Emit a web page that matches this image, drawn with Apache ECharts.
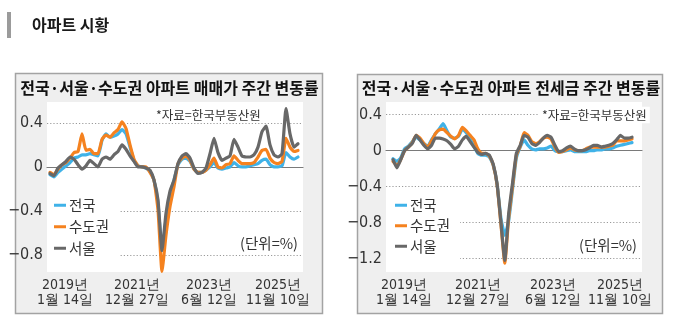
<!DOCTYPE html>
<html>
<head>
<meta charset="utf-8">
<script src="https://cdn.jsdelivr.net/npm/echarts@6/dist/echarts.min.js"></script>
<style>
  html, body { margin: 0; padding: 0; background: #fff; }
  #c { width: 679px; height: 328px; }
</style>
</head>
<body>
<div id="c"></div>
<script>
// Weekly apartment price change rates (%), 2019-01 .. 2025-11
const seriesNames = ['전국', '수도권', '서울'];
const xTickLabels = ['2019년\n1월 14일', '2021년\n12월 27일', '2023년\n6월 12일', '2025년\n11월 10일'];
// week positions of the date labels on each panel
const saleTickWeeks = [3.75, 21.75, 39.75, 57];
const rentTickWeeks = [2.85, 22.05, 41.5, 58.9];
const saleYTicks = [0.4, 0, -0.4, -0.8];
const rentYTicks = [0.4, 0, -0.4, -0.8, -1.2];

// 매매가 (sale price)
const saleNation = [-0.07,-0.09,-0.05,-0.02,0.01,0.04,0.08,0.09,0.11,0.11,
  0.12,0.11,0.10,0.24,0.30,0.27,0.28,0.30,0.34,0.30,
  0.18,0.06,0.01,0.00,-0.01,-0.04,-0.12,-0.33,-0.76,-0.48,
  -0.25,-0.12,0.02,0.07,0.08,0.05,-0.02,-0.05,-0.05,-0.03,
  0.00,0.04,-0.01,-0.02,-0.01,0.00,0.04,0.01,0.00,0.00,
  0.01,0.02,0.03,0.06,0.07,0.02,0.00,0.00,0.01,0.13,
  0.09,0.07,0.09];
const saleCapital = [-0.05,-0.07,-0.02,0.02,0.04,0.08,0.13,0.14,0.30,0.15,
  0.16,0.12,0.12,0.25,0.29,0.27,0.31,0.34,0.41,0.35,
  0.20,0.07,0.01,0.00,0.00,-0.05,-0.12,-0.39,-0.95,-0.62,
  -0.36,-0.18,0.03,0.08,0.10,0.06,-0.02,-0.05,-0.05,-0.03,
  0.02,0.08,0.00,-0.01,0.02,0.03,0.10,0.06,0.03,0.03,
  0.03,0.04,0.09,0.15,0.16,0.08,0.04,0.03,0.05,0.26,
  0.18,0.14,0.15];
const saleSeoul = [-0.06,-0.08,-0.01,0.02,0.05,0.09,0.07,0.02,-0.02,0.01,
  0.06,0.03,0.00,0.07,0.09,0.07,0.11,0.14,0.20,0.16,
  0.10,0.05,0.00,0.00,-0.01,-0.03,-0.12,-0.30,-0.76,-0.42,
  -0.22,-0.12,0.03,0.10,0.12,0.08,-0.01,-0.06,-0.05,-0.01,
  0.12,0.26,0.13,0.06,0.08,0.10,0.25,0.18,0.10,0.09,
  0.09,0.11,0.18,0.32,0.37,0.20,0.11,0.09,0.12,0.53,
  0.30,0.18,0.21];

// 전세금 (jeonse deposit)
const rentNation = [-0.09,-0.12,-0.08,0.02,0.05,0.10,0.15,0.12,0.08,0.05,
  0.12,0.19,0.24,0.30,0.22,0.15,0.14,0.16,0.24,0.20,
  0.13,0.05,-0.03,-0.05,-0.05,-0.07,-0.16,-0.37,-0.75,-0.94,
  -0.78,-0.43,-0.08,0.04,0.12,0.06,0.02,0.01,0.02,0.02,
  0.03,0.05,0.00,-0.01,-0.01,0.00,0.01,-0.01,-0.01,-0.01,
  -0.01,0.00,0.00,0.01,0.01,0.02,0.02,0.03,0.05,0.06,
  0.07,0.08,0.09];
const rentCapital = [-0.12,-0.16,-0.10,0.00,0.04,0.09,0.17,0.14,0.08,0.04,
  0.11,0.19,0.23,0.24,0.20,0.16,0.13,0.17,0.26,0.22,
  0.17,0.12,0.02,-0.03,-0.03,-0.06,-0.16,-0.38,-0.82,-1.25,
  -0.75,-0.40,-0.05,0.05,0.20,0.17,0.10,0.08,0.10,0.14,
  0.15,0.13,0.04,-0.02,-0.01,0.01,0.03,0.01,0.00,0.00,
  0.02,0.04,0.04,0.04,0.04,0.04,0.05,0.06,0.11,0.11,
  0.11,0.12,0.13];
const rentSeoul = [-0.10,-0.19,-0.10,0.00,0.04,0.08,0.17,0.12,0.06,0.02,
  0.06,0.14,0.14,0.13,0.11,0.07,0.02,0.05,0.12,0.16,
  0.10,0.04,-0.02,-0.04,-0.03,-0.05,-0.15,-0.37,-0.80,-1.22,
  -0.70,-0.36,-0.03,0.06,0.17,0.15,0.08,0.06,0.09,0.14,
  0.17,0.15,0.06,-0.01,0.00,0.03,0.05,0.02,0.00,0.00,
  0.01,0.03,0.06,0.06,0.04,0.05,0.06,0.08,0.12,0.17,
  0.14,0.14,0.15];

const COLORS = ['#3fb2e8', '#f5821f', '#686868'];
const FONT_KR = '"Noto Sans CJK KR", "Noto Sans", sans-serif';
const FONT_NUM = '"Liberation Sans Narrow", "DejaVu Sans Condensed", "Roboto Condensed", "Liberation Sans", sans-serif';
const TEXT = '#333';

function fmtY(v) {
  if (v === 0) return '0';
  return (v < 0 ? '\u2212' : '') + Math.abs(v).toFixed(1);
}

function lineSeries(name, values, color, idx, z) {
  return {
    type: 'line', name: name,
    xAxisIndex: idx * 2, yAxisIndex: idx,
    data: values.map((v, i) => [i, v]),
    symbol: 'none', showSymbol: false,
    smooth: 0.15,
    lineStyle: { width: 3.2, color: color, join: 'round', cap: 'round' },
    itemStyle: { color: color },
    emphasis: { disabled: true },
    z: z, animation: false
  };
}

function xAxesFor(grid, min, max, tickWeeks) {
  return [
    { // zero baseline
      gridIndex: grid, type: 'value', min: min, max: max,
      axisLine: { show: true, onZero: true, lineStyle: { color: '#7a7a7a', width: 1.2 } },
      axisTick: { show: false }, axisLabel: { show: false }, splitLine: { show: false }
    },
    { // date labels
      gridIndex: grid, type: 'value', min: min, max: max, position: 'bottom',
      axisLine: { show: false, onZero: false }, axisTick: { show: false }, splitLine: { show: false },
      axisLabel: {
        customValues: tickWeeks,
        formatter: v => xTickLabels[tickWeeks.indexOf(v)] || '',
        margin: 6, fontSize: 14, lineHeight: 15, color: TEXT, fontFamily: FONT_NUM
      }
    }
  ];
}

function yAxisFor(grid, min, max, ticks) {
  return {
    gridIndex: grid, type: 'value', min: min, max: max,
    axisLine: { show: false },
    axisTick: { show: false, customValues: ticks.filter(t => t !== 0) },
    axisLabel: {
      customValues: ticks, formatter: fmtY, margin: 4,
      fontSize: 16, color: TEXT, fontFamily: FONT_NUM
    },
    splitLine: { show: true, lineStyle: { color: '#9a9a9a', width: 1, type: [1.2, 2] } }
  };
}

function legendFor(left, top, gap, padding) {
  return {
    data: seriesNames, orient: 'vertical', left: left, top: top,
    icon: 'rect', itemWidth: 12, itemHeight: 3, itemGap: gap,
    selectedMode: false, backgroundColor: '#fff', padding: padding,
    textStyle: { fontSize: 14.5, lineHeight: 14, color: TEXT, fontFamily: FONT_KR, padding: [0, 0, 0, -2] }
  };
}

const chart = echarts.init(document.getElementById('c'));
chart.setOption({
  animation: false,
  backgroundColor: '#fff',
  graphic: [
    { type: 'rect', z: -10, shape: { x: 7, y: 12, width: 4, height: 26 }, style: { fill: '#9b9b9b' } },
    { type: 'text', z: 10, x: 32, y: 25, style: { text: '아파트 시황', font: 'bold 16px ' + FONT_KR, fill: '#1a1a1a', verticalAlign: 'middle' } },
    { type: 'rect', z: -10, shape: { x: 15.5, y: 73.5, width: 307, height: 240 }, style: { fill: '#efefef', stroke: '#a3a3a3', lineWidth: 1.5 } },
    { type: 'rect', z: -10, shape: { x: 357.5, y: 74.5, width: 305, height: 239 }, style: { fill: '#efefef', stroke: '#a3a3a3', lineWidth: 1.5 } },
    { type: 'text', z: 10, x: 169.5, y: 88, style: { text: '전국·서울·수도권 아파트 매매가 주간 변동률', font: 'bold 16px ' + FONT_KR, fill: '#111', align: 'center', verticalAlign: 'middle' } },
    { type: 'text', z: 10, x: 511, y: 88, style: { text: '전국·서울·수도권 아파트 전세금 주간 변동률', font: 'bold 16px ' + FONT_KR, fill: '#111', align: 'center', verticalAlign: 'middle' } },
    { type: 'text', z: 10, x: 156, y: 115, style: { text: '*자료=한국부동산원', font: '12.5px ' + FONT_KR, fill: TEXT, verticalAlign: 'middle' } },
    { type: 'text', z: 10, x: 539, y: 115, style: { text: '*자료=한국부동산원', font: '12.5px ' + FONT_KR, fill: TEXT, verticalAlign: 'middle', backgroundColor: '#fff', padding: [2, 3, 2, 3] } },
    { type: 'text', z: 10, x: 298, y: 243, style: { text: '(단위=%)', font: '14.5px ' + FONT_KR, fill: TEXT, align: 'right', verticalAlign: 'middle' } },
    { type: 'text', z: 10, x: 637, y: 245, style: { text: '(단위=%)', font: '14.5px ' + FONT_KR, fill: TEXT, align: 'right', verticalAlign: 'middle' } }
  ],
  grid: [
    { left: 47, top: 102, width: 256, height: 170, show: true, backgroundColor: '#fff', borderWidth: 0 },
    { left: 386, top: 102, width: 256, height: 170, show: true, backgroundColor: '#fff', borderWidth: 0 }
  ],
  xAxis: [].concat(
    xAxesFor(0, -0.75, 63.25, saleTickWeeks),
    xAxesFor(1, -1.816, 64.59, rentTickWeeks)
  ),
  yAxis: [
    yAxisFor(0, -0.955, 0.59, saleYTicks),
    yAxisFor(1, -1.348, 0.541, rentYTicks)
  ],
  legend: [
    legendFor(47, 190, 7, [8, 10, 12, 7]),
    legendFor(386, 190, 6, [8, 10, 8, 9])
  ],
  series: [
    lineSeries(seriesNames[0], saleNation, COLORS[0], 0, 2),
    lineSeries(seriesNames[1], saleCapital, COLORS[1], 0, 3),
    lineSeries(seriesNames[2], saleSeoul, COLORS[2], 0, 4),
    lineSeries(seriesNames[0], rentNation, COLORS[0], 1, 2),
    lineSeries(seriesNames[1], rentCapital, COLORS[1], 1, 3),
    lineSeries(seriesNames[2], rentSeoul, COLORS[2], 1, 4)
  ]
});
</script>
</body>
</html>
